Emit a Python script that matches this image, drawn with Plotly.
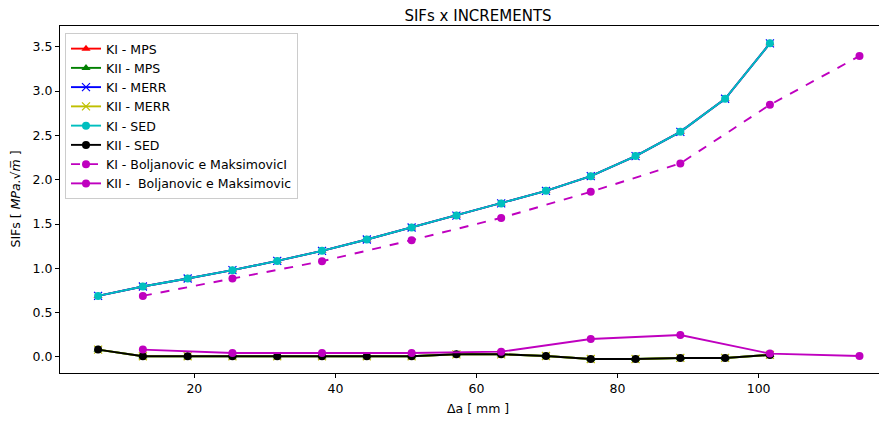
import plotly.graph_objects as go

# Crack increments (mm)
da_fem = [6.35, 12.7, 19.05, 25.4, 31.75, 38.1, 44.45, 50.8, 57.15, 63.5,
          69.85, 76.2, 82.55, 88.9, 95.25, 101.6]
da_bm = [12.7, 25.4, 38.1, 50.8, 63.5, 76.2, 88.9, 101.6, 114.3]

ki_mps = [0.689, 0.795, 0.885, 0.979, 1.084, 1.197, 1.325, 1.461, 1.595, 1.732,
          1.874, 2.04, 2.266, 2.54, 2.913, 3.538]
kii_mps = [0.083, 0.008, 0.008, 0.008, 0.008, 0.008, 0.008, 0.008, 0.03, 0.03,
           0.011, -0.023, -0.023, -0.011, -0.011, 0.023]
ki_merr = list(ki_mps)
kii_merr = list(kii_mps)
ki_sed = list(ki_mps)
kii_sed = list(kii_mps)
ki_bm = [0.689, 0.885, 1.08, 1.318, 1.569, 1.863, 2.184, 2.845, 3.395]
kii_bm = [0.083, 0.045, 0.045, 0.045, 0.06, 0.203, 0.248, 0.038, 0.011]

FONT = "DejaVu Sans"
OFF = 8  # page body margin offset
W, H = 887 - OFF, 421 - OFF
L, R, T, B = 60 - OFF, 0, 26 - OFF, 48
PW, PH = W - L - R, H - T - B

fig = go.Figure()

def add(x, y, name, color, symbol, dash="solid", msize=8):
    fig.add_trace(go.Scatter(
        x=x, y=y, name=name, mode="lines+markers",
        line=dict(color=color, width=1.9, dash=dash),
        marker=dict(color=color, symbol=symbol, size=msize,
                    line=dict(color=color, width=1.2 if symbol == "x-thin" else 0)),
    ))

add(da_fem, ki_mps, "KI - MPS", "red", "triangle-up")
add(da_fem, kii_mps, "KII - MPS", "green", "triangle-up")
add(da_fem, ki_merr, "KI - MERR", "blue", "x-thin")
add(da_fem, kii_merr, "KII - MERR", "#bfbf00", "x-thin")
add(da_fem, ki_sed, "KI - SED", "#00bfbf", "circle")
add(da_fem, kii_sed, "KII - SED", "black", "circle")
add(da_bm, ki_bm, "KI - Boljanovic e MaksimovicI", "#bf00bf", "circle", dash="dash")
add(da_bm, kii_bm, "KII -  Boljanovic e Maksimovic", "#bf00bf", "circle")

def px_x(px):
    return (px - OFF - L) / PW

def px_y(py):
    return 1 - (py - OFF - T) / PH

fig.update_layout(
    width=W, height=H,
    margin=dict(l=L, r=R, t=T, b=B),
    paper_bgcolor="white", plot_bgcolor="white",
    font=dict(family=FONT, size=12.5, color="black"),
    title=dict(text="SIFs x INCREMENTS", x=(478 - OFF) / W, xanchor="center",
               y=1 - 8 / H, yanchor="middle", font=dict(size=15)),
    showlegend=True,
    legend=dict(x=px_x(65), y=px_y(33), xanchor="left", yanchor="top",
                bordercolor="#cccccc", borderwidth=1, bgcolor="rgba(255,255,255,0.8)",
                font=dict(size=12.5), tracegroupgap=0, itemwidth=30),
    annotations=[
        dict(text="Δa [ mm ]", xref="paper", yref="paper",
             x=px_x(478), y=px_y(408), xanchor="center", yanchor="middle",
             showarrow=False, font=dict(size=12.5)),
        dict(text="SIFs [ <i>MPa.</i>√<i>m̅</i> ]", xref="paper", yref="paper",
             x=px_x(15), y=0.5, xanchor="center", yanchor="middle",
             textangle=-90, showarrow=False, font=dict(size=12.5)),
    ],
)
fig.update_xaxes(range=[0.95, 118.2], showgrid=False, zeroline=False, automargin=False,
                 showline=True, linecolor="black", linewidth=1, mirror=True,
                 ticks="outside", ticklen=4, tickcolor="black",
                 tickvals=[20, 40, 60, 80, 100])
fig.update_yaxes(range=[-0.181, 3.734], showgrid=False, zeroline=False, automargin=False,
                 showline=True, linecolor="black", linewidth=1, mirror=False,
                 ticks="outside", ticklen=4, tickcolor="black",
                 tickvals=[0, 0.5, 1.0, 1.5, 2.0, 2.5, 3.0, 3.5],
                 tickformat=".1f")

fig.write_html("out.html")
